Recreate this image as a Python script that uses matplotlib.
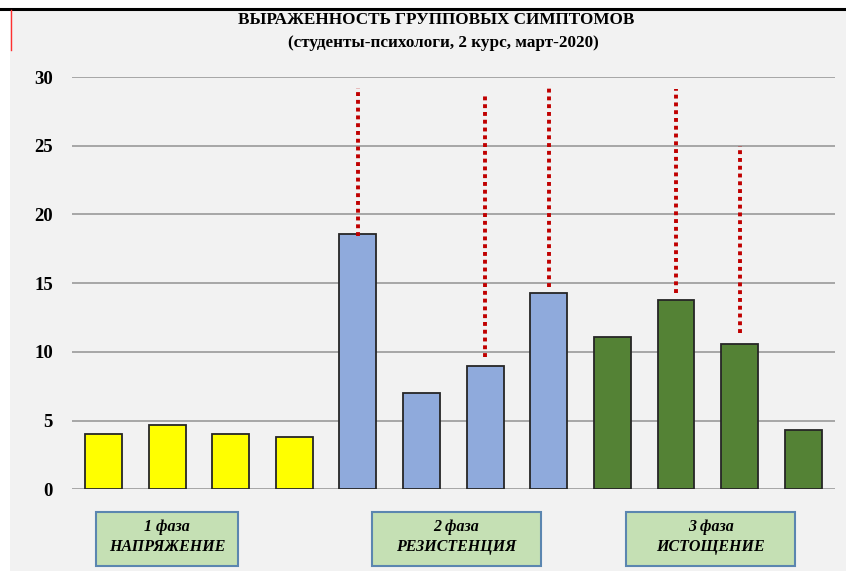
import matplotlib.pyplot as plt
from matplotlib.patches import Rectangle
from matplotlib.lines import Line2D

# bar values (12 symptoms, 3 phases of 4)
values = [4.0, 4.7, 4.0, 3.8, 18.6, 7.0, 9.0, 14.3, 11.1, 13.8, 10.6, 4.3]
phase_of_bar = [0, 0, 0, 0, 1, 1, 1, 1, 2, 2, 2, 2]
phase_colors = ['#ffff00', '#8faadc', '#548235']
phase_labels = ['1 фаза\nНАПРЯЖЕНИЕ', '2 фаза\nРЕЗИСТЕНЦИЯ', '3 фаза\nИСТОЩЕНИЕ']

# red dotted markers above some bars
dot_bars = [4, 6, 7, 9, 10]
dot_bottom = [18.4, 9.6, 14.7, 14.3, 11.4]
dot_top = [29.2, 28.7, 29.2, 29.1, 25.0]

yticks = [0, 5, 10, 15, 20, 25, 30]

serif = 'Liberation Serif'

fig = plt.figure(figsize=(8.46, 5.71), dpi=100, facecolor='white')

# gray panel, black top rule, little red mark
fig.patches.append(Rectangle((10 / 846, 0), 1, 1 - 10 / 571, transform=fig.transFigure,
                             facecolor='#f2f2f2', edgecolor='none', zorder=-2))
fig.add_artist(Line2D([0, 1], [1 - 8.5 / 571, 1 - 8.5 / 571], color='black', lw=2.2,
                      transform=fig.transFigure))
fig.add_artist(Line2D([10.5 / 846, 10.5 / 846], [1 - 10 / 571, 1 - 50 / 571], color='#ff3030',
                      lw=1.0, transform=fig.transFigure))

ax = fig.add_axes([71.7 / 846, 1 - 489.3 / 571, (835 - 71.7) / 846, (489.3 - 77) / 571])
ax.set_facecolor('none')

x = list(range(len(values)))
colors = [phase_colors[p] for p in phase_of_bar]
ax.bar(x, values, width=0.58, color=colors, edgecolor='#262626', linewidth=1.3, zorder=3)

for b, lo, hi in zip(dot_bars, dot_bottom, dot_top):
    ax.plot([b, b], [lo, hi], color='#c00000', lw=2.8, linestyle=(0, (1, 1)),
            solid_capstyle='butt', dash_capstyle='butt', zorder=4)

ax.set_xlim(-0.5, len(values) - 0.5)
ax.set_ylim(0, 30)
ax.set_yticks(yticks)
ax.set_yticklabels([str(t) for t in yticks], fontfamily=serif, fontweight='bold', fontsize=13.5)
ax.set_xticks([])
ax.tick_params(axis='y', length=0, pad=13.5)
ax.grid(axis='y', color='#a6a6a6', lw=1.4, zorder=0)
for s in ax.spines.values():
    s.set_visible(False)

fig.text(436 / 846, 1 - 20 / 571, 'ВЫРАЖЕННОСТЬ ГРУППОВЫХ СИМПТОМОВ', ha='center', va='center',
         fontfamily=serif, fontweight='bold', fontsize=12.3)
fig.text(443 / 846, 1 - 43 / 571, '(студенты-психологи, 2 курс, март-2020)', ha='center',
         va='center', fontfamily=serif, fontweight='bold', fontsize=12.3)

# phase boxes below the axis
boxes = [(96, 238), (372, 541), (626, 795)]
for (x0, x1), lab in zip(boxes, phase_labels):
    fig.patches.append(Rectangle((x0 / 846, 1 - 566 / 571), (x1 - x0) / 846, 54 / 571,
                                 transform=fig.transFigure, facecolor='#c5e0b4',
                                 edgecolor='#5b86b0', lw=1.5))
    fig.text((x0 + x1) / 2 / 846, 1 - 537 / 571, lab, ha='center', va='center',
             fontfamily=serif, fontweight='bold', fontstyle='italic', fontsize=11.5,
             linespacing=1.35)

fig.savefig('out.png', dpi=100, facecolor=fig.get_facecolor())
